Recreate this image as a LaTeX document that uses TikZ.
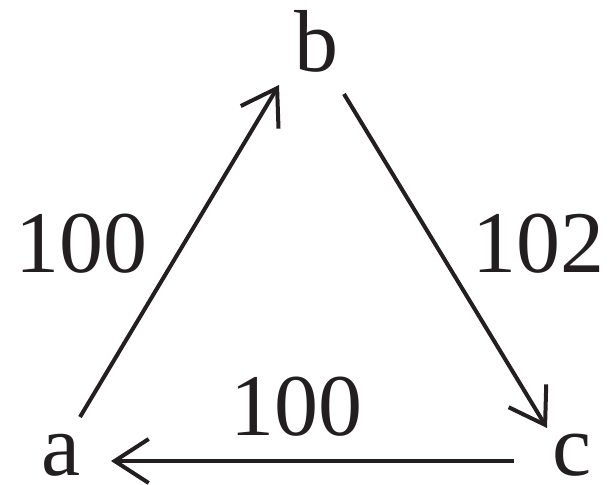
\documentclass[tikz,border=0pt]{standalone}
\usepackage{fontspec}
\setmainfont{Liberation Serif}
\usetikzlibrary{arrows.meta,calc}
\definecolor{ink}{HTML}{231F20}
\tikzset{
  lbl/.style={inner sep=0pt, anchor=base, text=ink, font=\fontsize{88}{88}\selectfont},
  arr/.style={draw=ink, line width=4pt, -{Straight Barb[length=34pt,width=44pt,line width=4pt]}}
}
\begin{document}
\begin{tikzpicture}[x=1pt,y=-1pt]
\useasboundingbox (0,0) rectangle (609,484);
\node[lbl] (a) at (61,475) {a};
\node[lbl] (b) at (316,72) {b};
\node[lbl] (c) at (572,475) {c};
\node[lbl] (lab) at (81,272) {100};
\node[lbl] (lbc) at (538,272) {102};
\node[lbl] (lca) at (296,435) {100};
\draw[arr] ($(a.base)+(19,-58)$) -- ($(b.base)+(-37,13)$);
\draw[arr] ($(b.base)+(28,22)$) -- ($(c.base)+(-25,-47)$);
\draw[arr] ($(c.base)+(-58,-14)$) -- ($(a.base)+(50,-14)$);
\end{tikzpicture}
\end{document}
